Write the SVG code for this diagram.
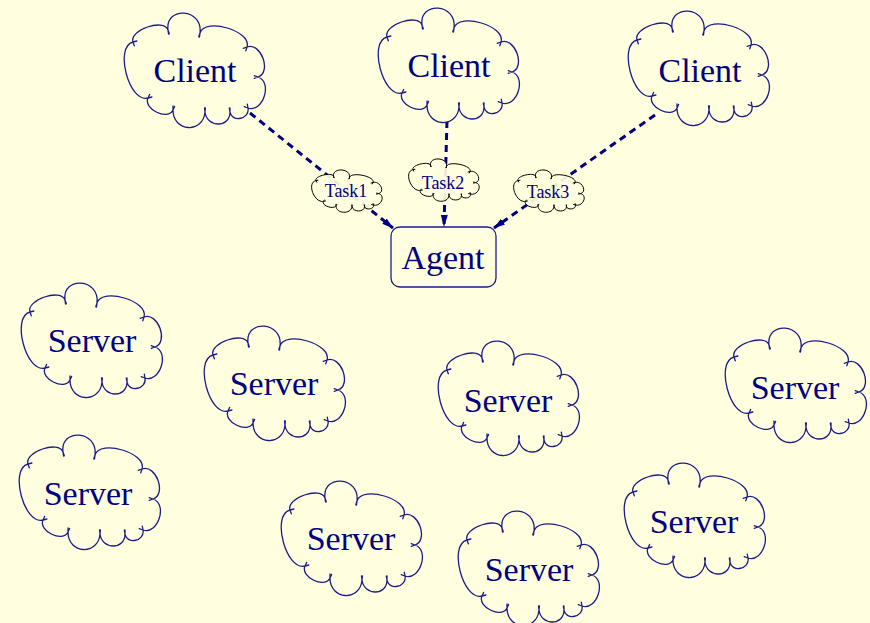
<svg xmlns="http://www.w3.org/2000/svg" xmlns:xlink="http://www.w3.org/1999/xlink" width="870" height="623" viewBox="0 0 870 623">
<style>
.bg{fill:#FFFFE0}
.cf{fill:#FFFFE0;stroke:none}
.co{fill:none;stroke:#1C1C88;stroke-width:1.3;stroke-linecap:round}
.tco{fill:none;stroke:#000000;stroke-width:1;stroke-linecap:round}
.lbl{font-family:"Liberation Serif","Times New Roman",serif;font-size:34px;fill:#000080;text-anchor:middle}
.tlbl{font-family:"Liberation Serif","Times New Roman",serif;font-size:18px;fill:#000080;text-anchor:middle}
.conn{fill:none;stroke:#000080;stroke-width:3;stroke-dasharray:7 5}
</style>
<defs>
<path id="cloudFill" d="M-62,-28 C-66,-40 -31,-52 -27,-40 C-30,-64 8,-62 5,-37 C10,-53 57,-39 52,-23 C66,-28 77,2 63,7 C78,12 68,43 53,38 C55,49 37,53 35,42 C35,58 12,58 10,42 C8,64 -22,62 -22,40 C-27,51 -52,39 -47,28 C-66,33 -81,-23 -62,-28 Z"/>
<path id="cloudLine" vector-effect="non-scaling-stroke" d="M-60.7,-24.2 L-62,-28 C-66,-40 -31,-52 -27,-40 L-25.7,-36.2 M-26.5,-36 L-27,-40 C-30,-64 8,-62 5,-37 L4.5,-33 M3.8,-33.2 L5,-37 C10,-53 57,-39 52,-23 L50.8,-19.2 M48.2,-21.6 L52,-23 C66,-28 77,2 63,7 L59.2,8.4 M59.2,5.7 L63,7 C78,12 68,43 53,38 L49.2,36.7 M52.3,34.1 L53,38 C55,49 37,53 35,42 L34.3,38.1 M35,38 L35,42 C35,58 12,58 10,42 L9.5,38 M10.4,38 L10,42 C8,64 -22,62 -22,40 L-22,36 M-20.4,36.4 L-22,40 C-27,51 -52,39 -47,28 L-45.4,24.4 M-43.1,27 L-47,28 C-66,33 -81,-23 -62,-28 L-58.1,-29"/>
<marker id="arr" viewBox="0 0 12 8" refX="11" refY="4" markerWidth="12" markerHeight="8" markerUnits="userSpaceOnUse" orient="auto">
<path d="M0,0.5 L12,4 L0,7.5 Z" fill="#000080"/>
</marker>
</defs>
<rect class="bg" x="0" y="0" width="870" height="623"/>

<g id="connectors">
<line class="conn" x1="250" y1="113" x2="393" y2="228" marker-end="url(#arr)"/>
<line class="conn" x1="447" y1="121" x2="444" y2="226" marker-end="url(#arr)"/>
<line class="conn" x1="655" y1="115" x2="494" y2="228" marker-end="url(#arr)"/>
</g>

<g id="client1" transform="translate(195,70)">
<use xlink:href="#cloudFill" class="cf"/><use xlink:href="#cloudLine" class="co"/>
<text class="lbl" x="0" y="12">Client</text>
</g>
<g id="client2" transform="translate(449,65)">
<use xlink:href="#cloudFill" class="cf"/><use xlink:href="#cloudLine" class="co"/>
<text class="lbl" x="0" y="12">Client</text>
</g>
<g id="client3" transform="translate(699,68)">
<use xlink:href="#cloudFill" class="cf"/><use xlink:href="#cloudLine" class="co"/>
<text class="lbl" x="1" y="14">Client</text>
</g>

<g id="task1" transform="translate(347,191)">
<g transform="scale(0.5,0.37)"><use xlink:href="#cloudFill" class="cf" fill-opacity="0.92"/><use xlink:href="#cloudLine" class="tco"/></g>
<text class="tlbl" x="-1" y="6">Task1</text>
</g>
<g id="task2" transform="translate(444,180)">
<g transform="scale(0.5,0.37)"><use xlink:href="#cloudFill" class="cf" fill-opacity="0.92"/><use xlink:href="#cloudLine" class="tco"/></g>
<text class="tlbl" x="-1" y="9">Task2</text>
</g>
<g id="task3" transform="translate(549,191)">
<g transform="scale(0.5,0.37)"><use xlink:href="#cloudFill" class="cf" fill-opacity="0.92"/><use xlink:href="#cloudLine" class="tco"/></g>
<text class="tlbl" x="-1" y="7">Task3</text>
</g>

<g id="agent">
<rect x="391" y="227" width="105" height="60" rx="9" ry="9" fill="#FFFFE0" stroke="#1C1C88" stroke-width="1.3"/>
<text class="lbl" x="443" y="269">Agent</text>
</g>

<g id="server1" transform="translate(92,340)">
<use xlink:href="#cloudFill" class="cf"/><use xlink:href="#cloudLine" class="co"/>
<text class="lbl" x="0" y="12">Server</text>
</g>
<g id="server2" transform="translate(275,383)">
<use xlink:href="#cloudFill" class="cf"/><use xlink:href="#cloudLine" class="co"/>
<text class="lbl" x="-1" y="12">Server</text>
</g>
<g id="server3" transform="translate(509,398)">
<use xlink:href="#cloudFill" class="cf"/><use xlink:href="#cloudLine" class="co"/>
<text class="lbl" x="-1" y="14">Server</text>
</g>
<g id="server4" transform="translate(796,385)">
<use xlink:href="#cloudFill" class="cf"/><use xlink:href="#cloudLine" class="co"/>
<text class="lbl" x="-1" y="14">Server</text>
</g>
<g id="server5" transform="translate(90,492)">
<use xlink:href="#cloudFill" class="cf"/><use xlink:href="#cloudLine" class="co"/>
<text class="lbl" x="-2" y="13">Server</text>
</g>
<g id="server6" transform="translate(352,538)">
<use xlink:href="#cloudFill" class="cf"/><use xlink:href="#cloudLine" class="co"/>
<text class="lbl" x="-1" y="12">Server</text>
</g>
<g id="server7" transform="translate(529,568)">
<use xlink:href="#cloudFill" class="cf"/><use xlink:href="#cloudLine" class="co"/>
<text class="lbl" x="0" y="13">Server</text>
</g>
<g id="server8" transform="translate(695,520)">
<use xlink:href="#cloudFill" class="cf"/><use xlink:href="#cloudLine" class="co"/>
<text class="lbl" x="-1" y="13">Server</text>
</g>
</svg>
